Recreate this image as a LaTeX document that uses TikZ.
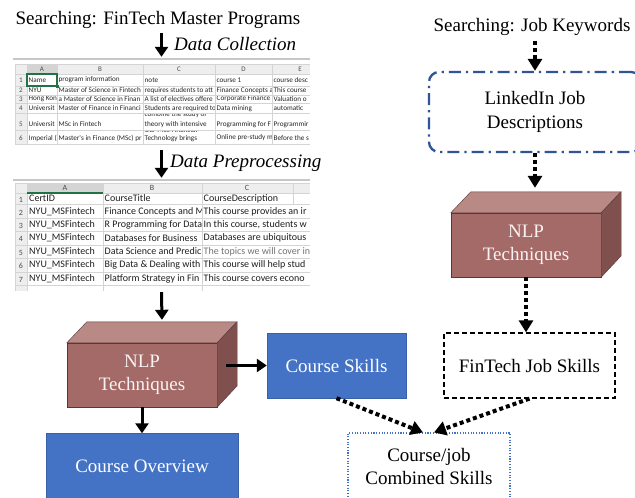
\documentclass[tikz,border=0pt]{standalone}
\usepackage{fontspec}
\setmainfont{Liberation Serif}
\newfontfamily\sheetfont{Carlito}
\usetikzlibrary{arrows.meta,positioning}
\definecolor{nlpfront}{RGB}{163,106,103}
\definecolor{nlptop}{RGB}{184,137,133}
\definecolor{nlpside}{RGB}{127,80,78}
\definecolor{nlpline}{RGB}{88,55,53}
\definecolor{skillblue}{RGB}{68,114,196}
\definecolor{linkblue}{RGB}{47,85,151}
\definecolor{gridgray}{RGB}{212,212,212}
\definecolor{headgray}{RGB}{238,238,238}
\definecolor{selgreen}{RGB}{33,115,70}
\tikzstyle{plaintext} = [inner sep=0pt, align=center, font=\fontsize{19}{23.5}\selectfont]
\tikzstyle{stage} = [inner sep=0pt, anchor=west, font=\fontsize{19}{23.5}\selectfont\itshape]
\tikzstyle{nlpbox} = [plaintext, draw=nlpline, fill=nlpfront, text=white!92!nlpfront, minimum width=150pt, minimum height=64pt]
\tikzstyle{nlptopface} = [draw=nlpline, fill=nlptop]
\tikzstyle{nlpsideface} = [draw=nlpline, fill=nlpside]
\tikzstyle{bluebox} = [plaintext, draw=skillblue!85!black, fill=skillblue, text=white, minimum height=65pt]
\tikzstyle{jobbox} = [plaintext, draw, line width=1.3pt, dash pattern=on 5pt off 3pt, minimum width=171pt, minimum height=65pt]
\tikzstyle{mixbox} = [plaintext, draw=skillblue, line width=1.1pt, dash pattern=on 1.1pt off 1.6pt, minimum width=162pt, minimum height=67pt]
\tikzstyle{linkbox} = [plaintext, draw=linkblue, line width=2.3pt, dash pattern=on 12pt off 5pt on 2.3pt off 5pt, rounded corners=10pt, minimum width=212pt, minimum height=80pt]
\tikzstyle{arr} = [draw, line width=3pt, -{Triangle[width=13pt,length=10pt]}]
\tikzstyle{dotarr} = [draw, line width=4pt, dash pattern=on 4pt off 3pt, -{Triangle[width=14pt,length=12pt]}]
\tikzstyle{cellone} = [anchor=west, inner sep=0pt, text=black!85, font=\sheetfont\fontsize{7.2}{8.5}\selectfont]
\tikzstyle{celltwo} = [anchor=west, inner sep=0pt, text=black!88, font=\sheetfont\fontsize{10}{12}\selectfont]
\tikzstyle{headone} = [inner sep=0pt, text=black!70, font=\sheetfont\fontsize{7}{8}\selectfont]
\tikzstyle{headtwo} = [inner sep=0pt, text=black!70, font=\sheetfont\fontsize{8}{9}\selectfont]
\tikzstyle{cellline} = [draw=gridgray, line width=0.6pt]

\begin{document}
\begin{tikzpicture}[x=1pt,y=-1pt]
\useasboundingbox (0,0) rectangle (635,498);
\clip (0,0) rectangle (635,498);
\fill[white] (0,0) rectangle (635,498);

% left side: master programs
\node[plaintext] (progsearch) at (158,20) {Searching: FinTech Master Programs};
\node[stage] (collect) at (174,44) {Data Collection};
\node[inner sep=0pt, minimum width=297pt, minimum height=89pt] (sheetone) at (161.5,101.5) {};
\node[stage] (prep) at (170,163) {Data Preprocessing};
\node[inner sep=0pt, minimum width=297pt, minimum height=111pt] (sheettwo) at (161.5,235.5) {};

% collected programs sheet
\begin{scope}
\clip (sheetone.north west) rectangle (sheetone.south east);
\draw[black!22, line width=1.5pt] (13,59) -- (310,59);
\fill[headgray] (15,64) rectangle (310,74);
\fill[headgray] (15,74) rectangle (27,144);
\fill[black!17] (27,64) rectangle (57,74);
\foreach \x/\c in {42/A,100/B,179/C,243.5/D,300/E}
  \node[headone] (sa-\c) at (\x,69) {\c};
\foreach \y [count=\r] in {80,90.5,99,108.5,124.5,138}
  \node[headone] (sa-r\r) at (21,\y) {\r};
\foreach \y/\t [count=\r] in {80/Name,90.5/NYU,99/Hong Kon,108.5/Universit,124.5/Universit,138/{Imperial (}}
  \node[cellone] (sa-A\r) at (28.5,\y) {\t};
\fill[white] (57,74) rectangle (143,144);
\foreach \y/\t [count=\r] in {80/program information,90.5/Master of Science in Fintech,99/a Master of Science in Finan,108.5/Master of Finance in Financi,124.5/MSc in Fintech,138/Master's in Finance (MSc) pr}
  \node[cellone] (sa-B\r) at (58.5,\y) {\t};
\fill[white] (143,74) rectangle (215,144);
\foreach \y/\t [count=\r] in {80/note,90.5/requires students to att,99/A list of electives offere,108.5/Students are required to}
  \node[cellone] (sa-C\r) at (144.5,\y) {\t};
\begin{scope}
\clip (143,113) rectangle (215,130);
\node[cellone] (sa-C5a) at (144.5,114.5) {combine the study of};
\node[cellone] (sa-C5b) at (144.5,124.5) {theory with intensive};
\end{scope}
\begin{scope}
\clip (143,130) rectangle (215,144);
\node[cellone] (sa-C6a) at (144.5,130) {Our MSc Financial};
\node[cellone] (sa-C6b) at (144.5,138.5) {Technology brings};
\end{scope}
\fill[white] (215,74) rectangle (272,144);
\foreach \y/\t [count=\r] in {80/course 1,90.5/Finance Concepts a,99/Corporate Finance,108.5/Data mining,124.5/Programming for F,138/Online pre-study m}
  \node[cellone] (sa-D\r) at (216.5,\y) {\t};
\fill[white] (272,74) rectangle (310,144);
\foreach \y/\t [count=\r] in {80/course desc,90.5/This course,99/Valuation o,108.5/automatic,124.5/Programmir,138/Before the s}
  \node[cellone] (sa-E\r) at (273.5,\y) {\t};
\foreach \x in {15,27,57,143,215,272}
  \path[cellline] (\x,64) -- (\x,144);
\foreach \y in {64,74,86,95,103,113,130,144}
  \path[cellline] (15,\y) -- (310,\y);
\draw[selgreen, line width=1.2pt] (27,74) rectangle (57,86);
\fill[selgreen] (55.5,84.5) rectangle (58.5,87.5);
\end{scope}

% preprocessed courses sheet
\begin{scope}
\clip (sheettwo.north west) rectangle (sheettwo.south east);
\draw[black!22, line width=1.5pt] (13,180) -- (310,180);
\fill[headgray] (15,183) rectangle (310,193);
\fill[headgray] (15,193) rectangle (27,291);
\fill[black!17] (27,183) rectangle (103,193);
\foreach \x/\c in {65/A,152/B,247/C}
  \node[headtwo] (sb-\c) at (\x,188) {\c};
\foreach \y [count=\r] in {198.5,211.5,224.5,238,251.5,265,278.5}
  \node[headtwo] (sb-r\r) at (21,\y+1) {\r};
\foreach \y/\t [count=\r] in {198.5/CertID,211.5/NYU\_MSFintech,224.5/NYU\_MSFintech,238/NYU\_MSFintech,251.5/NYU\_MSFintech,265/NYU\_MSFintech,278.5/NYU\_MSFintech}
  \node[celltwo] (sb-A\r) at (29,\y) {\t};
\fill[white] (103,193) rectangle (202,291);
\foreach \y/\t [count=\r] in {198.5/CourseTitle,211.5/Finance Concepts and M,224.5/R Programming for Data,238/Databases for Business,251.5/Data Science and Predic,265/Big Data \& Dealing with,278.5/Platform Strategy in Fin}
  \node[celltwo] (sb-B\r) at (104.5,\y) {\t};
\fill[white] (202,193) rectangle (310,291);
\foreach \y/\t [count=\r] in {198.5/CourseDescription,211.5/This course provides an ir,224.5/{In this course, students w},238/Databases are ubiquitous,265/This course will help stud,278.5/This course covers econo}
  \node[celltwo] (sb-C\r) at (203.5,\y) {\t};
\node[celltwo, text=black!55] (sb-C5) at (203.5,251.5) {The topics we will cover in};
\foreach \x in {15,27,103,202}
  \path[cellline] (\x,183) -- (\x,291);
\path[cellline] (293,183) -- (293,204);
\foreach \y in {183,193,204,218,231,245,258,272,285}
  \path[cellline] (15,\y) -- (310,\y);
\draw[selgreen, line width=1.2pt] (27,193) -- (103,193);
\end{scope}

% left NLP and outputs
\node[nlpbox] (nlpL) at (142,375) {NLP\\Techniques};
\draw[nlptopface] (nlpL.north west) -- ++(20,-21) -- ++(150,0) -- (nlpL.north east) -- cycle;
\draw[nlpsideface] (nlpL.north east) -- ++(20,-21) -- ++(0,64) -- (nlpL.south east) -- cycle;
\coordinate (nlpLtop) at ([shift={(20,-21)}]nlpL.north);
\node[bluebox, minimum width=139pt] (cskills) at (336.5,365.5) {Course Skills};
\node[bluebox, minimum width=192pt] (overview) at (142,466) {Course Overview};

% right side: jobs
\node[plaintext] (jobsearch) at (532,27) {Searching: Job Keywords};
\node[linkbox] (linkedin) at (535,112) {LinkedIn Job\\Descriptions};
\node[nlpbox] (nlpR) at (526,245) {NLP\\Techniques};
\draw[nlptopface] (nlpR.north west) -- ++(20,-21) -- ++(150,0) -- (nlpR.north east) -- cycle;
\draw[nlpsideface] (nlpR.north east) -- ++(20,-21) -- ++(0,64) -- (nlpR.south east) -- cycle;
\coordinate (nlpRtop) at ([shift={(20,-21)}]nlpR.north);
\node[jobbox] (jobskills) at (529.5,365.5) {FinTech Job Skills};
\node[mixbox] (combined) at (429,466.5) {Course/job\\Combined Skills};

% arrows
\path[arr, shorten <=4pt] (sheetone.north |- progsearch.south) -- (sheetone.north);
\path[arr, shorten <=4pt, shorten >=2pt] (sheetone.south) -- (sheettwo.north);
\path[arr, shorten <=1pt, shorten >=2pt] (sheettwo.south) -- (nlpLtop);
\path[arr] ([xshift=9pt]cskills.west -| nlpL.east) -- (cskills.west);
\path[arr] (nlpL.south) -- (overview.north);
\path[dotarr, shorten <=5pt] (linkedin.north |- jobsearch.south) -- (linkedin.north);
\path[dotarr, shorten >=4pt] (linkedin.south) -- (linkedin.south |- nlpRtop);
\path[dotarr] (nlpR.south) -- (nlpR.south |- jobskills.north);
\path[dotarr] (cskills.south) -- ([xshift=-6pt]combined.north);
\path[dotarr] (jobskills.south) -- ([xshift=5pt]combined.north);
\end{tikzpicture}
\end{document}
